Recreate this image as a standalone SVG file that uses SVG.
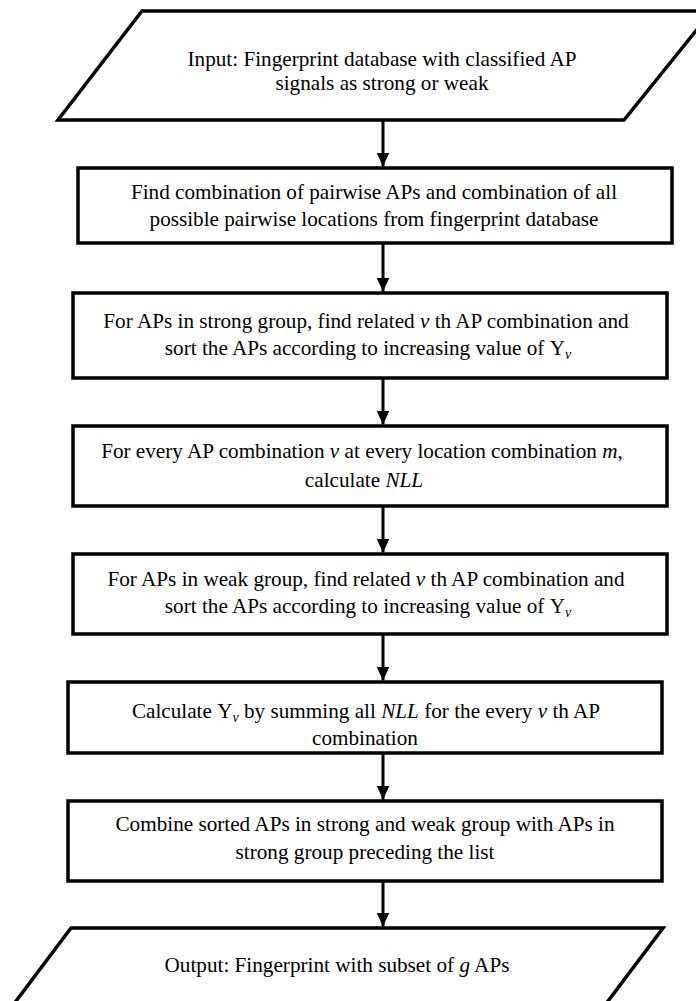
<svg xmlns="http://www.w3.org/2000/svg" width="696" height="1001" viewBox="0 0 696 1001">
<style>
.shape{fill:#fff;stroke:#000;stroke-width:3.5;stroke-linejoin:miter}
.t{font-family:"Liberation Serif","Times New Roman",serif;font-size:21.2px;text-anchor:middle;fill:#000}
.i{font-style:italic}
.s{font-style:italic;font-size:14px}
.c{stroke:#000;stroke-width:3;fill:none}
</style>
<defs>
<marker id="ah" markerUnits="userSpaceOnUse" markerWidth="14" markerHeight="14" refX="14" refY="6.5" orient="auto">
<path d="M0,0 L14,6.5 L0,13 z" fill="#000"/>
</marker>
</defs>
<rect width="696" height="1001" fill="#fff"/>
<g id="connectors">
<line class="c" x1="383" y1="121" x2="383" y2="166.5" marker-end="url(#ah)"/>
<line class="c" x1="383" y1="244" x2="383" y2="291.5" marker-end="url(#ah)"/>
<line class="c" x1="383" y1="379" x2="383" y2="424.5" marker-end="url(#ah)"/>
<line class="c" x1="383" y1="507" x2="383" y2="552.5" marker-end="url(#ah)"/>
<line class="c" x1="383" y1="635" x2="383" y2="680.5" marker-end="url(#ah)"/>
<line class="c" x1="383" y1="754" x2="383" y2="799.5" marker-end="url(#ah)"/>
<line class="c" x1="383" y1="882" x2="383" y2="926.5" marker-end="url(#ah)"/>
</g>
<g id="input">
<polygon class="shape" points="142,11 712,11 624,120 58,120"/>
<text class="t" x="382" y="66">Input: Fingerprint database with classified AP</text>
<text class="t" x="382" y="90">signals as strong or weak</text>
</g>
<g id="step1">
<rect class="shape" x="78" y="168" width="594" height="75"/>
<text class="t" x="374" y="199">Find combination of pairwise APs and combination of all</text>
<text class="t" x="374" y="226">possible pairwise locations from fingerprint database</text>
</g>
<g id="step2">
<rect class="shape" x="73" y="293" width="594" height="85"/>
<text class="t" x="366" y="328">For APs in strong group, find related <tspan class="i">v</tspan> th AP combination and</text>
<text class="t" x="368" y="355">sort the APs according to increasing value of Υ<tspan class="s" dy="4">v</tspan></text>
</g>
<g id="step3">
<rect class="shape" x="73" y="426" width="594" height="80"/>
<text class="t" x="362" y="458">For every AP combination <tspan class="i">v</tspan> at every location combination <tspan class="i">m</tspan>,</text>
<text class="t" x="364" y="487">calculate <tspan class="i">NLL</tspan></text>
</g>
<g id="step4">
<rect class="shape" x="73" y="554" width="594" height="80"/>
<text class="t" x="366" y="586">For APs in weak group, find related <tspan class="i">v</tspan> th AP combination and</text>
<text class="t" x="368" y="613">sort the APs according to increasing value of Υ<tspan class="s" dy="4">v</tspan></text>
</g>
<g id="step5">
<rect class="shape" x="68" y="682" width="594" height="71"/>
<text class="t" x="366" y="718">Calculate Υ<tspan class="s" dy="4">v</tspan><tspan dy="-4"> by summing all </tspan><tspan class="i">NLL</tspan> for the every <tspan class="i">v</tspan> th AP</text>
<text class="t" x="365" y="745">combination</text>
</g>
<g id="step6">
<rect class="shape" x="68" y="801" width="594" height="80"/>
<text class="t" x="365" y="831">Combine sorted APs in strong and weak group with APs in</text>
<text class="t" x="365" y="859">strong group preceding the list</text>
</g>
<g id="output">
<polygon class="shape" points="71,928 663,928 581,1037 -11,1037"/>
<text class="t" x="337" y="972">Output: Fingerprint with subset of <tspan class="i">g</tspan> APs</text>
</g>
</svg>
